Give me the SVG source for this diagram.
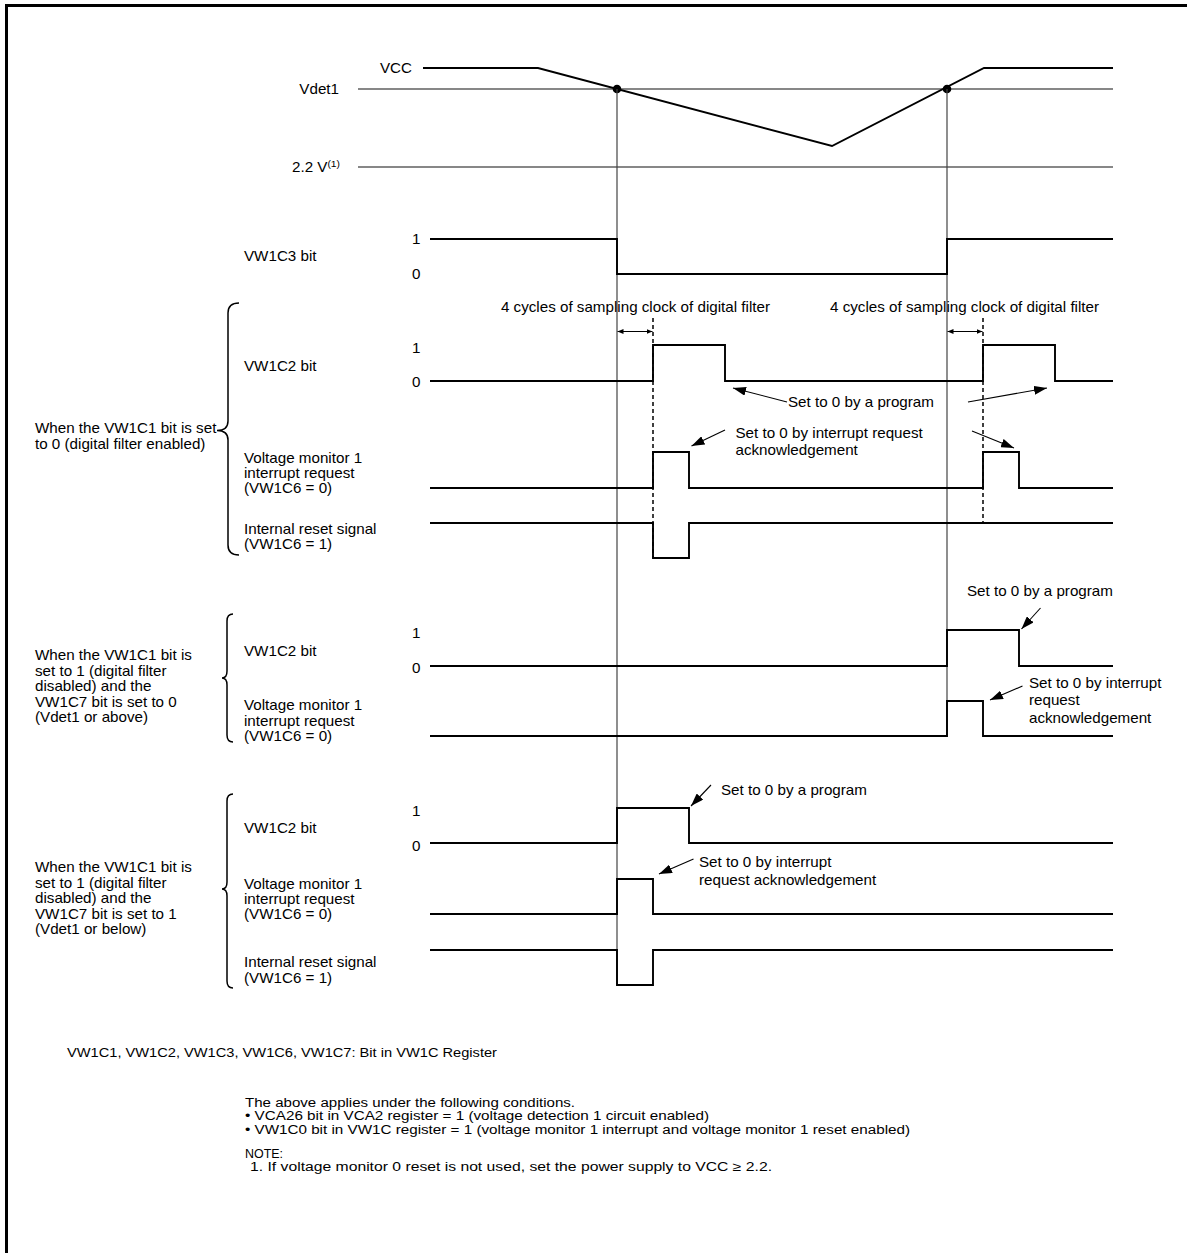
<svg xmlns="http://www.w3.org/2000/svg" width="1187" height="1253" viewBox="0 0 1187 1253">
<defs>
<style>
text{font-family:"Liberation Sans",Arial,Helvetica,sans-serif;font-size:14px;fill:#000}
.n{font-size:12.5px}
.w{fill:none;stroke:#000;stroke-width:1.9;stroke-linejoin:miter}
.g{fill:none;stroke:#444;stroke-width:1.2}
.ref{fill:none;stroke:#111;stroke-width:1.2}
.d{fill:none;stroke:#000;stroke-width:1.5;stroke-dasharray:4,3}
.br{fill:none;stroke:#000;stroke-width:1.5}
.a{fill:none;stroke:#000;stroke-width:1.1;marker-end:url(#ah)}
.dim{fill:none;stroke:#000;stroke-width:1.1;marker-start:url(#sh);marker-end:url(#sh)}
</style>
<marker id="ah" viewBox="0 0 13 9" refX="13" refY="4.5" markerWidth="13" markerHeight="9" markerUnits="userSpaceOnUse" orient="auto"><path d="M0,0 L13,4.5 L0,9 Z" fill="#000"/></marker>
<marker id="sh" viewBox="0 0 6 5" refX="6" refY="2.5" markerWidth="6" markerHeight="5" markerUnits="userSpaceOnUse" orient="auto-start-reverse"><path d="M0,0 L6,2.5 L0,5 Z" fill="#000"/></marker>
</defs>
<rect width="1187" height="1253" fill="#fff"/>
<g id="frame"><path d="M6.5,1253 V5.5 H1187" fill="none" stroke="#000" stroke-width="3"/></g>

<g id="vcc">
<text transform="translate(412,73) scale(1.085,1)" text-anchor="end">VCC</text>
<path class="w" d="M423,68 H538 L832,146 L984,68 H1113"/>
</g>
<g id="vdet1">
<text transform="translate(339,94) scale(1.085,1)" text-anchor="end">Vdet1</text>
<path class="ref" d="M358,89 H1113"/>
<circle cx="617" cy="89" r="4.3" fill="#000"/>
<circle cx="947" cy="89" r="4.3" fill="#000"/>
</g>
<g id="v22">
<text transform="translate(340,172) scale(1.085,1)" text-anchor="end">2.2 V<tspan font-size="9.5" dy="-5">(1)</tspan></text>
<path class="ref" d="M358,167 H1113"/>
</g>
<g id="guides">
<path class="g" d="M617,89 V985"/>
<path class="g" d="M947,89 V737"/>
</g>

<g id="vw1c3">
<text transform="translate(244,261) scale(1.085,1)">VW1C3 bit</text>
<text transform="translate(412,243.5) scale(1.085,1)">1</text>
<text transform="translate(412,279) scale(1.085,1)">0</text>
<path class="w" d="M430,239 H617 V274 H947 V239 H1113"/>
</g>

<g id="group1">
<path class="br" d="M239,303 Q228,303 228,313 V421 Q228,430.5 217,430.5 Q228,430.5 228,440 V545 Q228,555 239,555"/>
<text transform="translate(35,433) scale(1.085,1)">When the VW1C1 bit is set</text>
<text transform="translate(35,449) scale(1.085,1)">to 0 (digital filter enabled)</text>
<text transform="translate(770,311.5) scale(1.085,1)" text-anchor="end">4 cycles of sampling clock of digital filter</text>
<text transform="translate(830,311.5) scale(1.085,1)">4 cycles of sampling clock of digital filter</text>
</g>
<g id="g1-vw1c2">
<text transform="translate(244,370.5) scale(1.085,1)">VW1C2 bit</text>
<text transform="translate(412,352.5) scale(1.085,1)">1</text>
<text transform="translate(412,387) scale(1.085,1)">0</text>
<path class="w" d="M430,381 H653 V345 H725 V381 H983 V345 H1055 V381 H1113"/>
</g>
<g id="g1-int">
<text transform="translate(244,463) scale(1.085,1)">Voltage monitor 1</text>
<text transform="translate(244,478) scale(1.085,1)">interrupt request</text>
<text transform="translate(244,493) scale(1.085,1)">(VW1C6 = 0)</text>
<path class="w" d="M430,488 H653 V452 H689 V488 H983 V452 H1019 V488 H1113"/>
</g>
<g id="g1-reset">
<text transform="translate(244,534) scale(1.085,1)">Internal reset signal</text>
<text transform="translate(244,549) scale(1.085,1)">(VW1C6 = 1)</text>
<path class="w" d="M430,523 H653 V558 H689 V523 H1113"/>
</g>
<g id="g1-notes">
<text transform="translate(788,407) scale(1.085,1)">Set to 0 by a program</text>
<text transform="translate(735.5,437.5) scale(1.085,1)">Set to 0 by interrupt request</text>
<text transform="translate(735.5,455) scale(1.085,1)">acknowledgement</text>
</g>

<g id="group2">
<path class="br" d="M233,614 Q227,614 227,621 V671 Q227,678 222,678 Q227,678 227,685 V735 Q227,742 233,742"/>
<text transform="translate(35,660) scale(1.085,1)">When the VW1C1 bit is</text>
<text transform="translate(35,675.5) scale(1.085,1)">set to 1 (digital filter</text>
<text transform="translate(35,691) scale(1.085,1)">disabled) and the</text>
<text transform="translate(35,706.5) scale(1.085,1)">VW1C7 bit is set to 0</text>
<text transform="translate(35,722) scale(1.085,1)">(Vdet1 or above)</text>
</g>
<g id="g2-vw1c2">
<text transform="translate(244,656) scale(1.085,1)">VW1C2 bit</text>
<text transform="translate(412,638) scale(1.085,1)">1</text>
<text transform="translate(412,673) scale(1.085,1)">0</text>
<path class="w" d="M430,666 H947 V630 H1019 V666 H1113"/>
<text transform="translate(967,595.5) scale(1.085,1)">Set to 0 by a program</text>
</g>
<g id="g2-int">
<text transform="translate(244,710) scale(1.085,1)">Voltage monitor 1</text>
<text transform="translate(244,725.5) scale(1.085,1)">interrupt request</text>
<text transform="translate(244,741) scale(1.085,1)">(VW1C6 = 0)</text>
<path class="w" d="M430,736 H947 V701 H983 V736 H1113"/>
<text transform="translate(1029,687.5) scale(1.085,1)">Set to 0 by interrupt</text>
<text transform="translate(1029,705) scale(1.085,1)">request</text>
<text transform="translate(1029,722.5) scale(1.085,1)">acknowledgement</text>
</g>

<g id="group3">
<path class="br" d="M233,794 Q227,794 227,801 V882 Q227,889 222,889 Q227,889 227,896 V981 Q227,988 233,988"/>
<text transform="translate(35,872) scale(1.085,1)">When the VW1C1 bit is</text>
<text transform="translate(35,887.5) scale(1.085,1)">set to 1 (digital filter</text>
<text transform="translate(35,903) scale(1.085,1)">disabled) and the</text>
<text transform="translate(35,918.5) scale(1.085,1)">VW1C7 bit is set to 1</text>
<text transform="translate(35,934) scale(1.085,1)">(Vdet1 or below)</text>
</g>
<g id="g3-vw1c2">
<text transform="translate(244,833) scale(1.085,1)">VW1C2 bit</text>
<text transform="translate(412,815.5) scale(1.085,1)">1</text>
<text transform="translate(412,850.5) scale(1.085,1)">0</text>
<path class="w" d="M430,843 H617 V808 H689 V843 H1113"/>
<text transform="translate(721,794.5) scale(1.085,1)">Set to 0 by a program</text>
</g>
<g id="g3-int">
<text transform="translate(244,889) scale(1.085,1)">Voltage monitor 1</text>
<text transform="translate(244,904) scale(1.085,1)">interrupt request</text>
<text transform="translate(244,919) scale(1.085,1)">(VW1C6 = 0)</text>
<path class="w" d="M430,914 H617 V879 H653 V914 H1113"/>
<text transform="translate(699,866.5) scale(1.085,1)">Set to 0 by interrupt</text>
<text transform="translate(699,885) scale(1.085,1)">request acknowledgement</text>
</g>
<g id="g3-reset">
<text transform="translate(244,967) scale(1.085,1)">Internal reset signal</text>
<text transform="translate(244,982.5) scale(1.085,1)">(VW1C6 = 1)</text>
<path class="w" d="M430,950 H617 V985 H653 V950 H1113"/>
</g>

<g id="connectors">
<path class="d" d="M653,318 V558"/>
<path class="d" d="M983,318 V523"/>
<path class="dim" d="M617.5,331.5 H652.5"/>
<path class="dim" d="M947.5,331.5 H982.5"/>
<path class="a" d="M787,402 L733,388"/>
<path class="a" d="M968,402 L1047,388"/>
<path class="a" d="M725,430 L691.5,446"/>
<path class="a" d="M972,431 L1014,448"/>
<path class="a" d="M1040.5,608 L1021.5,629"/>
<path class="a" d="M1022.5,686 L990,700"/>
<path class="a" d="M711,785 L691,806"/>
<path class="a" d="M693.5,859 L659,874"/>
</g>

<g id="notes">
<text class="n" x="67" y="1057" textLength="430" lengthAdjust="spacingAndGlyphs">VW1C1, VW1C2, VW1C3, VW1C6, VW1C7: Bit in VW1C Register</text>
<text class="n" x="245" y="1107" textLength="330" lengthAdjust="spacingAndGlyphs">The above applies under the following conditions.</text>
<text class="n" x="245" y="1120" textLength="464" lengthAdjust="spacingAndGlyphs">• VCA26 bit in VCA2 register = 1 (voltage detection 1 circuit enabled)</text>
<text class="n" x="245" y="1134" textLength="665" lengthAdjust="spacingAndGlyphs">• VW1C0 bit in VW1C register = 1 (voltage monitor 1 interrupt and voltage monitor 1 reset enabled)</text>
<text class="n" x="245" y="1158" textLength="38" lengthAdjust="spacingAndGlyphs">NOTE:</text>
<text class="n" x="250" y="1171" textLength="522" lengthAdjust="spacingAndGlyphs">1. If voltage monitor 0 reset is not used, set the power supply to VCC ≥ 2.2.</text>
</g>
</svg>
